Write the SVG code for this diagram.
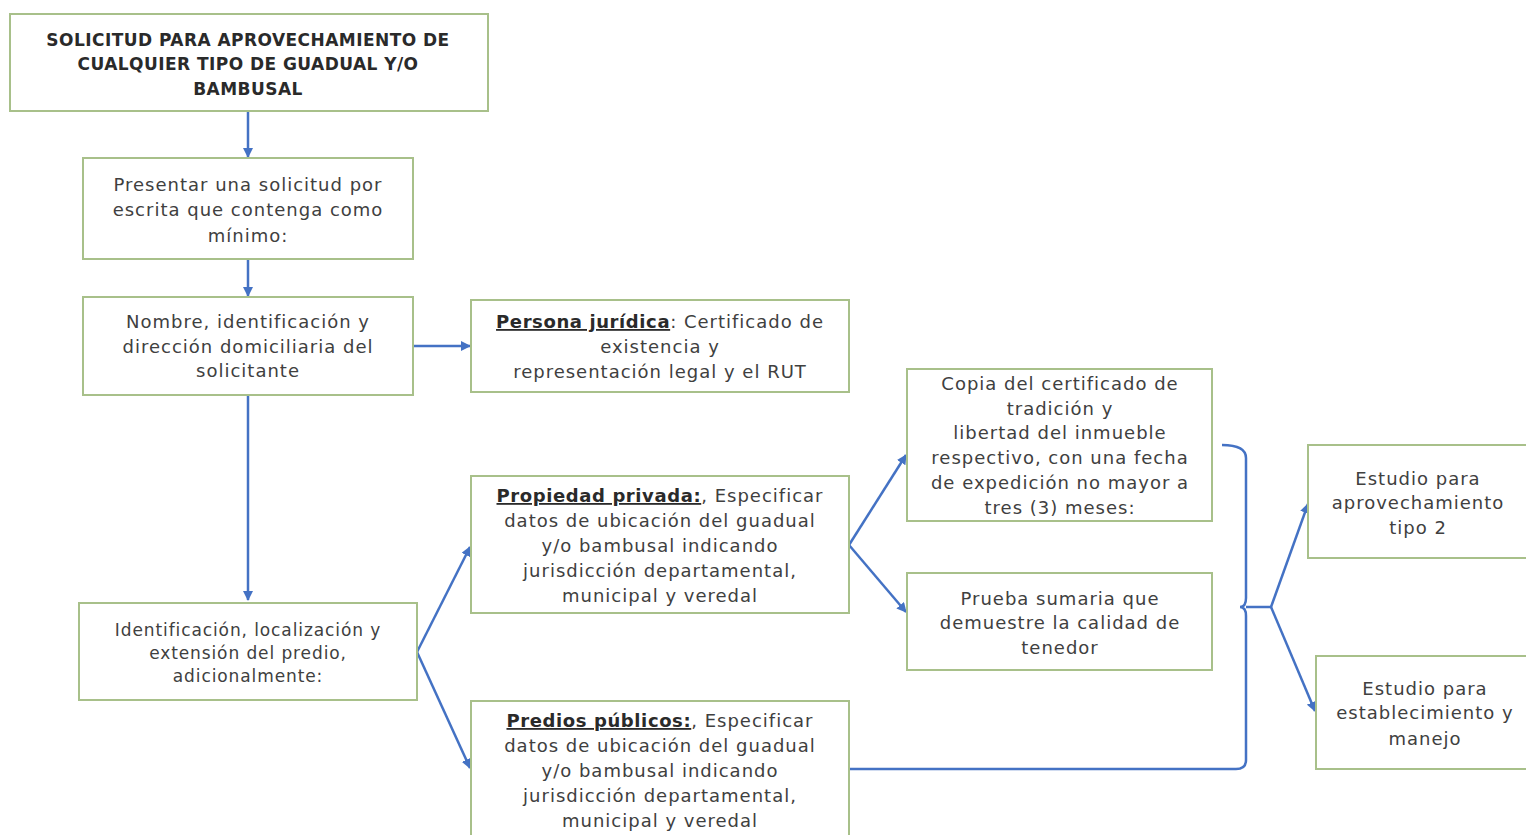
<svg xmlns="http://www.w3.org/2000/svg" width="1526" height="835" viewBox="0 0 1526 835">
<style>
.box{fill:#ffffff;stroke:#a8c08a;stroke-width:2}
.t{font-family:"DejaVu Sans",sans-serif;font-size:18px;letter-spacing:1px;fill:#404040;text-anchor:middle}
.s{font-size:17px;letter-spacing:0.9px}
.b{font-weight:bold;fill:#2a2a2a;font-size:17px;letter-spacing:0.45px}
.u{font-weight:bold;fill:#2a2a2a;text-decoration:underline;letter-spacing:0.6px}
.c{fill:none;stroke:#4472c4;stroke-width:2.5}
</style>
<defs>
<marker id="ah" viewBox="0 0 10 10" refX="9" refY="5" markerWidth="4" markerHeight="4" orient="auto">
<path d="M0,0 L10,5 L0,10 z" fill="#4472c4"/>
</marker>
</defs>
<rect width="1526" height="835" fill="#ffffff"/>
<g id="connectors">
<path class="c" d="M248,111 L248,157" marker-end="url(#ah)"/>
<path class="c" d="M248,259 L248,296" marker-end="url(#ah)"/>
<path class="c" d="M413,346 L470,346" marker-end="url(#ah)"/>
<path class="c" d="M248,395 L248,600" marker-end="url(#ah)"/>
<path class="c" d="M417,652 L470,547" marker-end="url(#ah)"/>
<path class="c" d="M417,652 L470,768" marker-end="url(#ah)"/>
<path class="c" d="M849,545 L906,455" marker-end="url(#ah)"/>
<path class="c" d="M849,545 L906,612" marker-end="url(#ah)"/>
<path class="c" d="M1222,445 Q1246,445 1246,458 L1246,598 Q1246,607 1240,607 Q1246,607 1246,616 L1246,760 Q1246,769 1236,769 L849,769"/>
<path class="c" d="M1246,607 L1271,607"/>
<path class="c" d="M1271,607 L1308,504" marker-end="url(#ah)"/>
<path class="c" d="M1271,607 L1315,711" marker-end="url(#ah)"/>
</g>
<g id="n1">
<rect class="box" x="10" y="14" width="478" height="97"/>
<text class="t b" x="248" y="46">SOLICITUD PARA APROVECHAMIENTO DE</text>
<text class="t b" x="248" y="70">CUALQUIER TIPO DE GUADUAL Y/O</text>
<text class="t b" x="248" y="95">BAMBUSAL</text>
</g>
<g id="n2">
<rect class="box" x="83" y="158" width="330" height="101"/>
<text class="t" x="248" y="191">Presentar una solicitud por</text>
<text class="t" x="248" y="216">escrita que contenga como</text>
<text class="t" x="248" y="242">mínimo:</text>
</g>
<g id="n3">
<rect class="box" x="83" y="297" width="330" height="98"/>
<text class="t" x="248" y="328">Nombre, identificación y</text>
<text class="t" x="248" y="353">dirección domiciliaria del</text>
<text class="t" x="248" y="377">solicitante</text>
</g>
<g id="n4">
<rect class="box" x="471" y="300" width="378" height="92"/>
<text class="t" x="660" y="328"><tspan class="u">Persona jurídica</tspan>: Certificado de</text>
<text class="t" x="660" y="353">existencia y</text>
<text class="t" x="660" y="378">representación legal y el RUT</text>
</g>
<g id="n5">
<rect class="box" x="79" y="603" width="338" height="97"/>
<text class="t s" x="248" y="636">Identificación, localización y</text>
<text class="t s" x="248" y="659">extensión del predio,</text>
<text class="t s" x="248" y="682">adicionalmente:</text>
</g>
<g id="n6">
<rect class="box" x="471" y="476" width="378" height="137"/>
<text class="t" x="660" y="502"><tspan class="u">Propiedad privada:</tspan>, Especificar</text>
<text class="t" x="660" y="527">datos de ubicación del guadual</text>
<text class="t" x="660" y="552">y/o bambusal indicando</text>
<text class="t" x="660" y="577">jurisdicción departamental,</text>
<text class="t" x="660" y="602">municipal y veredal</text>
</g>
<g id="n7">
<rect class="box" x="471" y="701" width="378" height="140"/>
<text class="t" x="660" y="727"><tspan class="u">Predios públicos:</tspan>, Especificar</text>
<text class="t" x="660" y="752">datos de ubicación del guadual</text>
<text class="t" x="660" y="777">y/o bambusal indicando</text>
<text class="t" x="660" y="802">jurisdicción departamental,</text>
<text class="t" x="660" y="827">municipal y veredal</text>
</g>
<g id="n8">
<rect class="box" x="907" y="369" width="305" height="152"/>
<text class="t" x="1060" y="390">Copia del certificado de</text>
<text class="t" x="1060" y="415">tradición y</text>
<text class="t" x="1060" y="439">libertad del inmueble</text>
<text class="t" x="1060" y="464">respectivo, con una fecha</text>
<text class="t" x="1060" y="489">de expedición no mayor a</text>
<text class="t" x="1060" y="514">tres (3) meses:</text>
</g>
<g id="n9">
<rect class="box" x="907" y="573" width="305" height="97"/>
<text class="t" x="1060" y="605">Prueba sumaria que</text>
<text class="t" x="1060" y="629">demuestre la calidad de</text>
<text class="t" x="1060" y="654">tenedor</text>
</g>
<g id="n10">
<rect class="box" x="1308" y="445" width="222" height="113"/>
<text class="t" x="1418" y="485">Estudio para</text>
<text class="t" x="1418" y="509">aprovechamiento</text>
<text class="t" x="1418" y="534">tipo 2</text>
</g>
<g id="n11">
<rect class="box" x="1316" y="656" width="214" height="113"/>
<text class="t" x="1425" y="695">Estudio para</text>
<text class="t" x="1425" y="719">establecimiento y</text>
<text class="t" x="1425" y="745">manejo</text>
</g>
</svg>
